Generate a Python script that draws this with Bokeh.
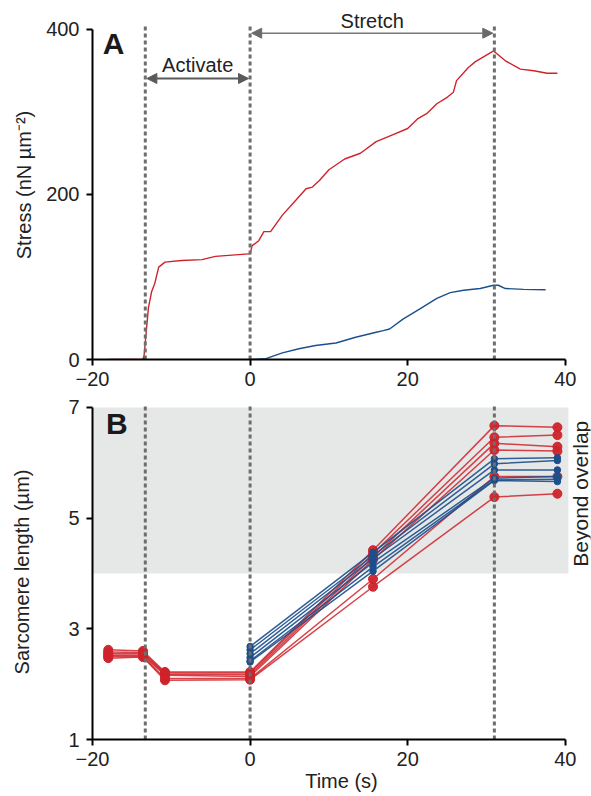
import math
from bokeh.plotting import figure
from bokeh.layouts import column
from bokeh.models import Range1d, FixedTicker, Label, Arrow, NormalHead, BoxAnnotation
from bokeh.embed import file_html
from bokeh.resources import INLINE

# ---------------- data: panel A (stress traces) ----------------
red_t = [-18.0, -13.6, -13.45, -12.9, -12.5, -12.1, -11.6, -10.8, -8.7, -6.1, -4.4, -0.2, 0.0,
         0.26, 1.1, 1.75, 2.6, 4.1, 5.8, 7.1, 7.9, 8.8, 10.0, 12.0, 14.0, 16.0, 18.0, 20.0,
         21.3, 22.4, 23.7, 24.9, 25.8, 26.2, 27.7, 28.6, 30.9, 32.4, 34.3, 36.0, 37.7, 39.0]
red_s = [0, 0, 5, 63, 82, 92, 112, 118, 120, 121, 125, 128, 128,
         138, 144, 155, 155, 175, 193, 207, 209, 217, 230, 243, 250, 264, 272, 280,
         292, 298, 310, 317, 324, 338, 354, 361, 374, 362, 352, 350, 347, 347]
blue_t = [0.0, 0.26, 2.0, 4.1, 6.2, 8.3, 10.9, 13.4, 16.0, 16.9, 17.7, 19.4, 21.5, 23.7,
          25.4, 27.1, 29.2, 30.9, 31.5, 32.4, 34.7, 37.5]
blue_s = [0, 0, 1, 8, 13, 17, 20, 27, 33, 35, 37, 49, 61, 74, 81, 84, 86, 90, 90, 86, 85, 84.5]

phase_t = [-13.3, 0.0, 31.0]   # activation start, stretch start, stretch end

# ---------------- data: panel B (sarcomere length) ----------------
red_times = [-18.0, -13.6, -10.8, 0.0, 15.6, 31.0, 39.0]
red_sl = [
    [2.62, 2.60, 2.22, 2.22, 4.42, 6.67, 6.64],
    [2.58, 2.57, 2.20, 2.20, 4.36, 6.46, 6.50],
    [2.55, 2.55, 2.18, 2.17, 4.30, 6.35, 6.29],
    [2.52, 2.52, 2.16, 2.14, 4.25, 6.23, 6.21],
    [2.50, 2.50, 2.10, 2.10, 3.90, 5.75, 5.75],
    [2.47, 2.49, 2.07, 2.08, 3.76, 5.38, 5.44],
]
blue_times = [0.0, 15.6, 31.0, 39.0]
blue_sl = [
    [2.68, 4.38, 6.07, 6.09],
    [2.62, 4.32, 5.98, 6.04],
    [2.55, 4.27, 5.87, 5.87],
    [2.48, 4.20, 5.72, 5.75],
    [2.42, 4.12, 5.69, 5.70],
    [2.40, 4.04, 5.68, 5.66],
]
overlap_band = [4.0, 7.0]

x_ticks = [-20, 0, 20, 40]
yA_ticks = [0, 200, 400]
yB_ticks = [1, 3, 5, 7]

RED = "#cf232b"
BLUE = "#1c4f8b"
GRAY = "#6e6e6e"
FONT = "Liberation Sans"
FS = "20px"
X_END = 43.2


def style_axes(p, yticks, ybounds, ylabel, ylabel_standoff, xlabel=None):
    p.xgrid.visible = False
    p.ygrid.visible = False
    p.outline_line_color = None
    for ax in (p.xaxis[0], p.yaxis[0]):
        ax.axis_line_width = 2
        ax.axis_line_color = "black"
        ax.major_tick_line_width = 2
        ax.major_tick_line_color = "black"
        ax.major_tick_in = 0
        ax.major_tick_out = 6
        ax.minor_tick_line_color = None
        ax.major_label_text_font = FONT
        ax.major_label_text_font_size = FS
        ax.major_label_text_color = "#222222"
        ax.axis_label_text_font = FONT
        ax.axis_label_text_font_size = FS
        ax.axis_label_text_font_style = "normal"
        ax.axis_label_text_color = "#222222"
    p.xaxis[0].ticker = FixedTicker(ticks=x_ticks)
    p.xaxis[0].bounds = (-20, 40)
    p.xaxis[0].major_label_overrides = {-20: "\u221220"}
    p.xaxis[0].major_label_standoff = 6
    p.yaxis[0].ticker = FixedTicker(ticks=yticks)
    p.yaxis[0].bounds = ybounds
    p.yaxis[0].major_label_standoff = 7
    p.yaxis[0].axis_label = ylabel
    p.yaxis[0].axis_label_standoff = ylabel_standoff
    if xlabel:
        p.xaxis[0].axis_label = xlabel
        p.xaxis[0].axis_label_standoff = 1


FRAME_W = 498

# ---------------- panel A ----------------
pA = figure(frame_width=FRAME_W, frame_height=349, x_range=Range1d(-20, X_END), y_range=Range1d(0, 423),
            min_border_left=92, min_border_right=1, min_border_top=10, min_border_bottom=36,
            output_backend="svg", toolbar_location=None)
style_axes(pA, yA_ticks, (0, 400), "Stress (nN \u00b5m\u207b\u00b2)", 8)

pA.line(red_t, red_s, line_color=RED, line_width=1.4)
pA.line(blue_t, blue_s, line_color=BLUE, line_width=1.4)
pA.segment(x0=phase_t, y0=[0, 0, 0], x1=phase_t, y1=[404, 404, 404],
           line_color=GRAY, line_width=3, line_dash="4 3")

pA.add_layout(Arrow(start=NormalHead(size=10, fill_color="#5a5a5a", line_color="#5a5a5a"),
                    end=NormalHead(size=10, fill_color="#5a5a5a", line_color="#5a5a5a"),
                    x_start=phase_t[0] + 0.2, y_start=340.6, x_end=phase_t[1] - 0.2, y_end=340.6,
                    line_color="#5a5a5a", line_width=2))
pA.add_layout(Arrow(start=NormalHead(size=10, fill_color="#6a6a6a", line_color="#6a6a6a"),
                    end=NormalHead(size=10, fill_color="#6a6a6a", line_color="#6a6a6a"),
                    x_start=phase_t[1] + 0.2, y_start=395.5, x_end=phase_t[2] - 0.2, y_end=395.5,
                    line_color="#777777", line_width=1.5))
pA.add_layout(Label(x=(phase_t[0] + phase_t[1]) / 2, y=357, text="Activate", text_align="center",
                    text_baseline="alphabetic", text_font=FONT, text_font_size=FS, text_color="#222222"))
pA.add_layout(Label(x=(phase_t[1] + phase_t[2]) / 2, y=410, text="Stretch", text_align="center",
                    text_baseline="alphabetic", text_font=FONT, text_font_size=FS, text_color="#222222"))
pA.add_layout(Label(x=-18.7, y=383, text="A", text_align="left", text_baseline="alphabetic",
                    text_font=FONT, text_font_size="30px", text_font_style="bold", text_color="#1a1a1a"))

# ---------------- panel B ----------------
pB = figure(frame_width=FRAME_W, frame_height=335, x_range=Range1d(-20, X_END), y_range=Range1d(1, 7.052),
            min_border_left=92, min_border_right=1, min_border_top=9, min_border_bottom=56,
            output_backend="svg", toolbar_location=None)
style_axes(pB, yB_ticks, (1, 7), "Sarcomere length (\u00b5m)", 32, xlabel="Time (s)")

pB.add_layout(BoxAnnotation(bottom=overlap_band[0], top=overlap_band[1], left=-20, right=40.4,
                            fill_color="#e6e7e7", fill_alpha=1.0, line_color=None, level="underlay"))

for ys in red_sl:
    pB.line(red_times, ys, line_color=RED, line_width=1.5, line_alpha=0.85)
    pB.scatter(red_times, ys, size=9, fill_color=RED, line_color=RED, fill_alpha=0.95)
for ys in blue_sl:
    pB.line(blue_times, ys, line_color=BLUE, line_width=1.5, line_alpha=0.9)
    pB.scatter(blue_times, ys, size=6.5, fill_color=BLUE, line_color=BLUE)

pB.segment(x0=phase_t, y0=[1, 1, 1], x1=phase_t, y1=[7.05, 7.05, 7.05],
           line_color=GRAY, line_width=3, line_dash="4 3")

pB.add_layout(Label(x=-18.3, y=6.71, text="B", text_align="left", text_baseline="alphabetic",
                    text_font=FONT, text_font_size="30px", text_font_style="bold", text_color="#1a1a1a"))
pB.add_layout(Label(x=41.9, y=5.44, text="Beyond overlap", angle=math.pi / 2, text_align="center",
                    text_baseline="middle", text_font=FONT, text_font_size="21px", text_color="#222222"))

layout = column(pA, pB)
open("out.html", "w").write(file_html(layout, INLINE))
